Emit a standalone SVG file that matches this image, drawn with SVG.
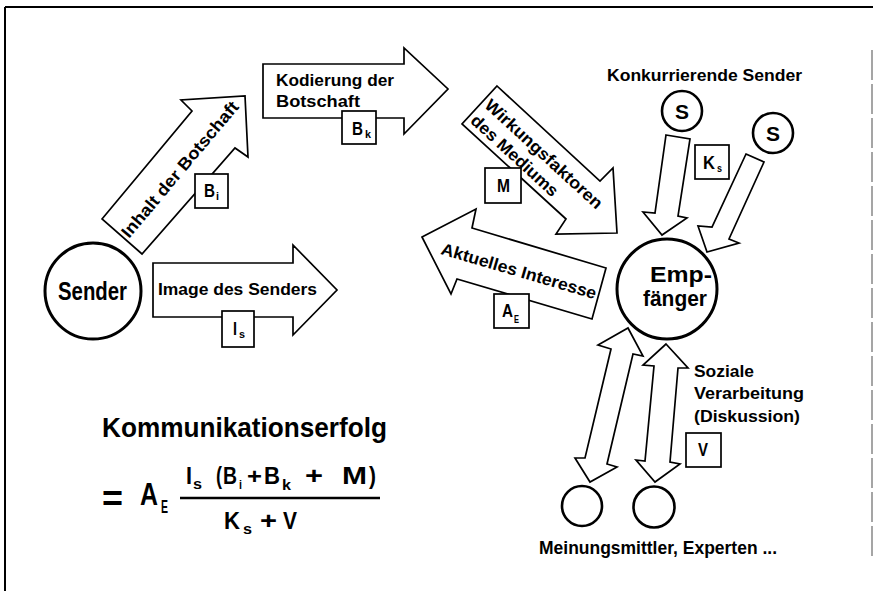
<svg xmlns="http://www.w3.org/2000/svg" width="873" height="591" viewBox="0 0 873 591">
<style>
.arrow{fill:#fff;stroke:#000;stroke-width:1.7;stroke-linejoin:miter}
.box{fill:#fff;stroke:#000;stroke-width:1.7}
.node{fill:#fff;stroke:#000;stroke-width:3}
.small{fill:#fff;stroke:#000;stroke-width:2.6}
text{font-family:"Liberation Sans",Arial,sans-serif;font-weight:bold;fill:#000}
.l{font-size:17px}
.bx{font-size:18px}
.sub{font-size:10px}
</style>
<rect x="0" y="0" width="873" height="591" fill="#fff"/>
<g id="frame" fill="none" stroke="#000">
<path d="M5 7 H873 M5 7 V591" stroke-width="2"/>
<path d="M872 50 V558" stroke="#888" stroke-width="1.5" stroke-dasharray="30 4"/>
</g>
<g id="connectors">
<polygon id="arrow-image" class="arrow" points="153,263 293,263 293,245 337,290 293,335 293,317 153,317"/>
<polygon id="arrow-inhalt" class="arrow" points="102,219 192,111 181,100 245,96 248,157 235,148 142,254"/>
<polygon id="arrow-kodierung" class="arrow" points="263,64 404,64 404,48 448,89 404,134 404,118 263,118"/>
<polygon id="arrow-wirkung" class="arrow" points="497,86 600,181 613,168 617,233 556,234 566,219 462,124"/>
<polygon id="arrow-interesse" class="arrow" points="422,237 476,209 472,228 606,268 592,319 457,279 451,294"/>
<polygon id="arrow-s1" class="arrow" points="666,135 690,139 678,216 687,218 662,235 643,212 655,213"/>
<polygon id="arrow-s2" class="arrow" points="746,154 764,162 729,239 739,243 707,252 698,226 712,227"/>
<polygon id="arrow-m1" class="arrow" points="628,328 643,356 633,354 607,464 617,467 590,482 575,458 585,458 611,349 598,345"/>
<polygon id="arrow-m2" class="arrow" points="666,344 688,368 678,368 670,462 680,464 655,482 636,460 645,461 654,366 643,365"/>
</g>
<g id="label-image">
<text class="l" x="158" y="295" textLength="159" lengthAdjust="spacingAndGlyphs">Image des Senders</text>
</g>
<g id="label-inhalt">
<text class="l" transform="translate(129,239) rotate(-50)" textLength="172" lengthAdjust="spacingAndGlyphs">Inhalt der Botschaft</text>
</g>
<g id="label-kodierung">
<text class="l" x="276" y="86" textLength="118" lengthAdjust="spacingAndGlyphs">Kodierung der</text>
<text class="l" x="276" y="107" textLength="84" lengthAdjust="spacingAndGlyphs">Botschaft</text>
</g>
<g id="label-wirkung">
<text class="l" transform="translate(483.5,106.5) rotate(42.5)" textLength="153" lengthAdjust="spacingAndGlyphs">Wirkungsfaktoren</text>
<text class="l" transform="translate(469.5,122) rotate(42.5)" textLength="112" lengthAdjust="spacingAndGlyphs">des Mediums</text>
</g>
<g id="label-interesse">
<text class="l" transform="translate(440,254) rotate(16.3)" textLength="161" lengthAdjust="spacingAndGlyphs">Aktuelles Interesse</text>
</g>
<g id="box-bi">
<rect class="box" x="195" y="174" width="33" height="34"/>
<text class="bx" x="204" y="197" textLength="11" lengthAdjust="spacingAndGlyphs">B</text>
<text class="sub" x="216" y="200" textLength="3" lengthAdjust="spacingAndGlyphs">i</text>
</g>
<g id="box-bk">
<rect class="box" x="342" y="111" width="34" height="33"/>
<text class="bx" x="352" y="135" textLength="11" lengthAdjust="spacingAndGlyphs">B</text>
<text class="sub" x="365" y="138" textLength="6" lengthAdjust="spacingAndGlyphs">k</text>
</g>
<g id="box-is">
<rect class="box" x="222" y="311" width="32" height="36"/>
<text class="bx" x="233" y="335" textLength="4" lengthAdjust="spacingAndGlyphs">I</text>
<text class="sub" x="239" y="338" textLength="6" lengthAdjust="spacingAndGlyphs">s</text>
</g>
<g id="box-m">
<rect class="box" x="485" y="168" width="36" height="35"/>
<text class="bx" x="497" y="192" textLength="13" lengthAdjust="spacingAndGlyphs">M</text>
</g>
<g id="box-ae">
<rect class="box" x="494" y="294" width="35" height="34"/>
<text class="bx" x="502" y="317" textLength="11" lengthAdjust="spacingAndGlyphs">A</text>
<text class="sub" x="514" y="323" textLength="5" lengthAdjust="spacingAndGlyphs">E</text>
</g>
<g id="box-ks">
<rect class="box" x="695" y="145" width="34" height="34"/>
<text class="bx" x="703" y="169" textLength="12" lengthAdjust="spacingAndGlyphs">K</text>
<text class="sub" x="717" y="172" textLength="5" lengthAdjust="spacingAndGlyphs">s</text>
</g>
<g id="box-v">
<rect class="box" x="686" y="433" width="35" height="34"/>
<text class="bx" x="698" y="456" textLength="10" lengthAdjust="spacingAndGlyphs">V</text>
</g>
<g id="node-sender">
<circle class="node" cx="93" cy="291" r="48"/>
<text x="58" y="300" font-size="25" textLength="69" lengthAdjust="spacingAndGlyphs">Sender</text>
</g>
<g id="node-empfaenger">
<circle class="node" cx="667" cy="289" r="50"/>
<text x="650" y="282" font-size="22" textLength="62" lengthAdjust="spacingAndGlyphs">Emp-</text>
<text x="643" y="306" font-size="22" textLength="64" lengthAdjust="spacingAndGlyphs">fänger</text>
</g>
<g id="label-konkurrierende">
<text class="l" x="607" y="81" textLength="195" lengthAdjust="spacingAndGlyphs">Konkurrierende Sender</text>
</g>
<g id="node-s1">
<circle class="small" cx="682" cy="111" r="20"/>
<text x="682" y="119" font-size="21" text-anchor="middle">S</text>
</g>
<g id="node-s2">
<circle class="small" cx="773" cy="133" r="20"/>
<text x="773" y="141" font-size="21" text-anchor="middle">S</text>
</g>
<g id="label-soziale">
<text class="l" x="694" y="377" textLength="60" lengthAdjust="spacingAndGlyphs">Soziale</text>
<text class="l" x="694" y="399" textLength="110" lengthAdjust="spacingAndGlyphs">Verarbeitung</text>
<text class="l" x="694" y="422" textLength="106" lengthAdjust="spacingAndGlyphs">(Diskussion)</text>
</g>
<g id="node-mittler1">
<circle class="small" cx="582" cy="506" r="20"/>
</g>
<g id="node-mittler2">
<circle class="small" cx="654" cy="507" r="20.5"/>
</g>
<g id="label-meinungsmittler">
<text x="539" y="554" font-size="18" textLength="238" lengthAdjust="spacingAndGlyphs">Meinungsmittler, Experten ...</text>
</g>
<g id="formula">
<text x="102" y="437" font-size="27" textLength="285" lengthAdjust="spacingAndGlyphs">Kommunikationserfolg</text>
<text x="102" y="511" font-size="36" textLength="21" lengthAdjust="spacingAndGlyphs">=</text>
<text x="140" y="505" font-size="31" textLength="18" lengthAdjust="spacingAndGlyphs">A</text>
<text x="161" y="513" font-size="19" textLength="7" lengthAdjust="spacingAndGlyphs">E</text>
<text x="186" y="484" font-size="24" textLength="6" lengthAdjust="spacingAndGlyphs">I</text>
<text x="193" y="489" font-size="14" textLength="9" lengthAdjust="spacingAndGlyphs">s</text>
<text x="216" y="484" font-size="24" textLength="6" lengthAdjust="spacingAndGlyphs">(</text>
<text x="223" y="484" font-size="24" textLength="14" lengthAdjust="spacingAndGlyphs">B</text>
<text x="239" y="489" font-size="13" textLength="3" lengthAdjust="spacingAndGlyphs">i</text>
<text x="247" y="484" font-size="22" textLength="15" lengthAdjust="spacingAndGlyphs">+</text>
<text x="264" y="484" font-size="24" textLength="16" lengthAdjust="spacingAndGlyphs">B</text>
<text x="282" y="490" font-size="14" textLength="9" lengthAdjust="spacingAndGlyphs">k</text>
<text x="305" y="484" font-size="24" textLength="18" lengthAdjust="spacingAndGlyphs">+</text>
<text x="342" y="484" font-size="24" textLength="25" lengthAdjust="spacingAndGlyphs">M</text>
<text x="369" y="484" font-size="24" textLength="7" lengthAdjust="spacingAndGlyphs">)</text>
<line x1="180" y1="498" x2="380" y2="498" stroke="#000" stroke-width="2.5"/>
<text x="224" y="529" font-size="23" textLength="16" lengthAdjust="spacingAndGlyphs">K</text>
<text x="243" y="534" font-size="14" textLength="9" lengthAdjust="spacingAndGlyphs">s</text>
<text x="260" y="529" font-size="23" textLength="17" lengthAdjust="spacingAndGlyphs">+</text>
<text x="283" y="529" font-size="23" textLength="14" lengthAdjust="spacingAndGlyphs">V</text>
</g>
</svg>
